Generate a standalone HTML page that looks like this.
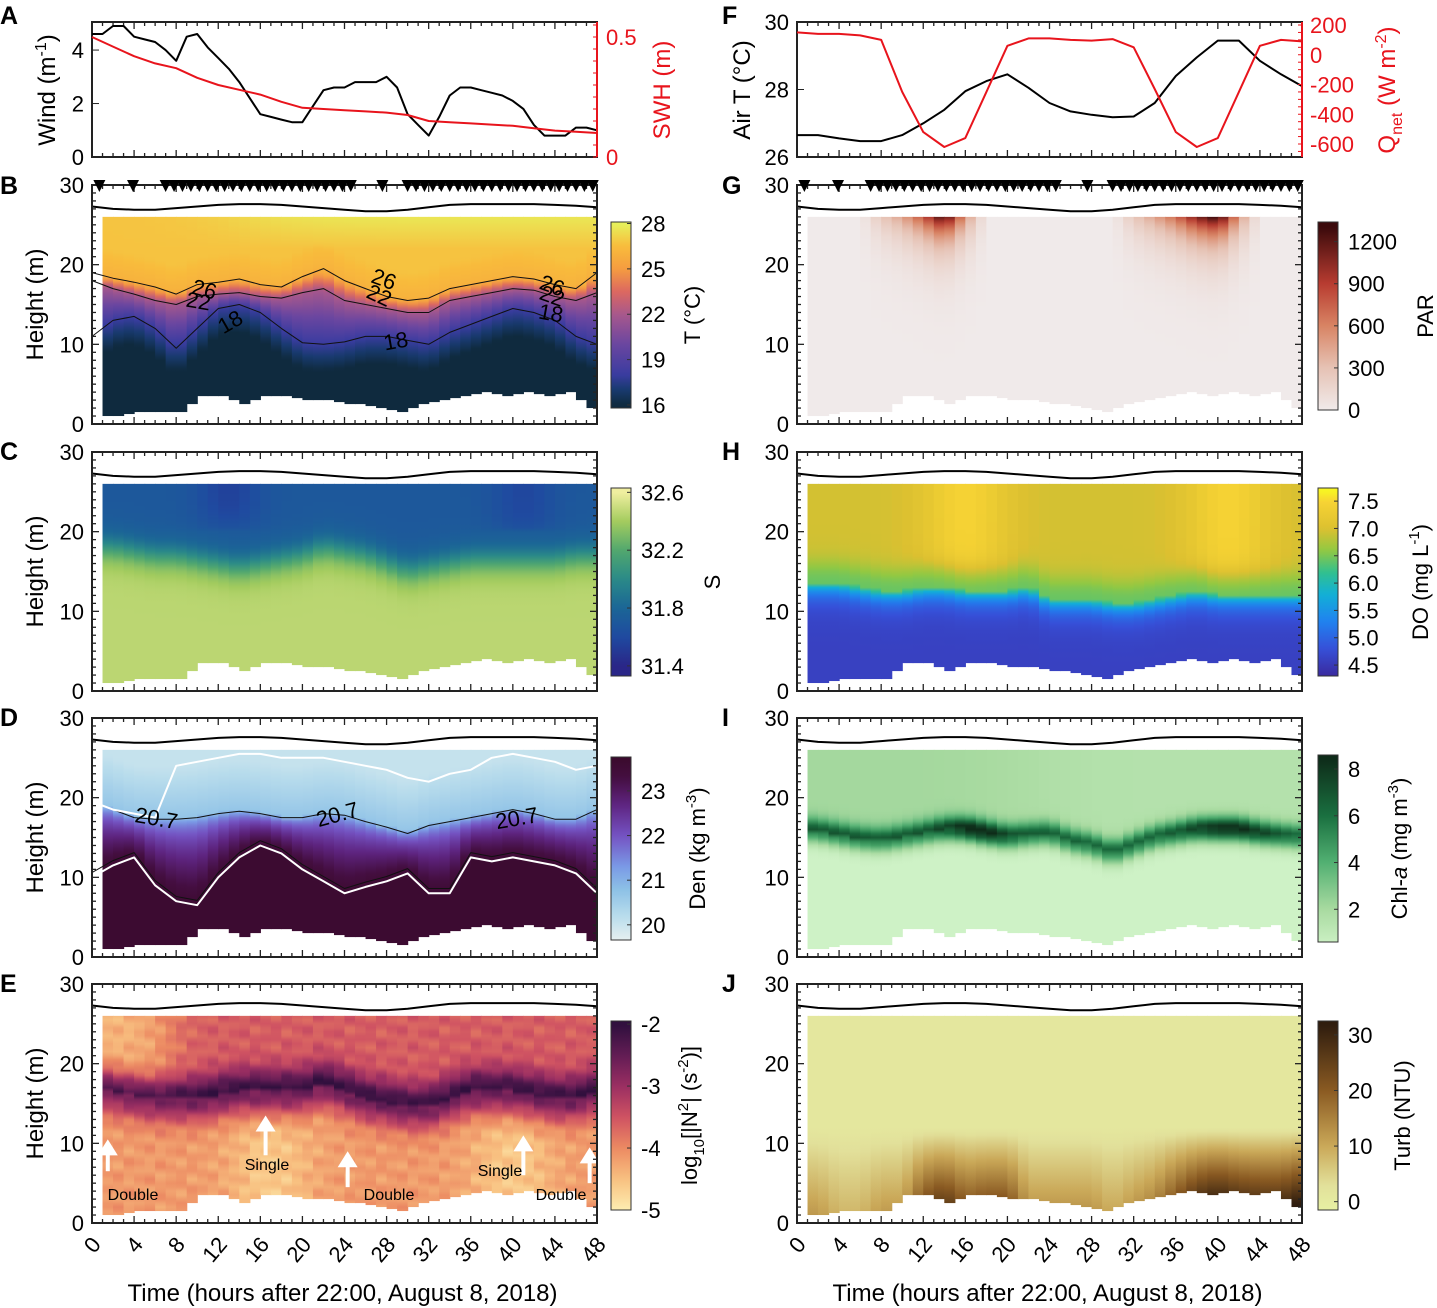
<!DOCTYPE html>
<html><head><meta charset="utf-8">
<style>
html,body{margin:0;padding:0;background:#fff;}
svg{display:block;font-family:"Liberation Sans",sans-serif;}
</style></head>
<body>
<svg id="fig" width="1437" height="1308" viewBox="0 0 1437 1308" xmlns="http://www.w3.org/2000/svg">
<defs id="defs"></defs>
</svg>
<script>
// ===== data =====
const windTimes = [0,1,2,3,4,5,6,7,8,9,10,11,12,13,14,15,16,17,18,19,20,21,22,23,24,25,26,27,28,29,30,31,32,33,34,35,36,37,38,39,40,41,42,43,44,45,46,47,48];
const windValues = [4.6,4.6,4.9,4.9,4.5,4.4,4.3,4.0,3.6,4.5,4.6,4.1,3.7,3.3,2.8,2.2,1.6,1.5,1.4,1.3,1.3,1.9,2.5,2.6,2.6,2.8,2.8,2.8,3.0,2.6,1.6,1.2,0.8,1.5,2.3,2.6,2.6,2.5,2.4,2.3,2.1,1.8,1.2,0.8,0.8,0.8,1.1,1.1,1.0];
const hourTimes = [0,2,4,6,8,10,12,14,16,18,20,22,24,26,28,30,32,34,36,38,40,42,44,46,48];
const swhValues = [0.50,0.46,0.42,0.39,0.37,0.33,0.30,0.28,0.26,0.23,0.205,0.2,0.195,0.19,0.185,0.175,0.15,0.145,0.14,0.135,0.13,0.12,0.11,0.105,0.10];
const airTValues = [26.65,26.65,26.55,26.47,26.47,26.65,27.0,27.4,27.95,28.25,28.45,28.05,27.6,27.35,27.25,27.18,27.2,27.6,28.4,28.95,29.45,29.45,28.85,28.45,28.1];
const qnetValues = [150,140,140,130,100,-250,-520,-620,-560,-250,60,110,110,100,95,105,50,-230,-520,-620,-560,-250,60,100,90];
const surfaceValues = [27.3,27.0,26.9,26.9,27.1,27.3,27.5,27.6,27.6,27.5,27.3,27.1,26.9,26.7,26.7,26.9,27.2,27.5,27.6,27.6,27.6,27.6,27.5,27.4,27.2];
const bottomValues = [1,1,1.5,1.5,1.5,3.5,3.5,2.5,3.5,3.5,3,3,2.5,2.5,2,1.5,2.5,3,3.5,4,3.5,4,3.5,4,2];
const iso26Values = [19,18.3,17.8,17.2,16.3,17.5,17.8,18.2,17.5,17.2,18.5,19.5,18,17,16,15.5,15.8,17,17.5,18,18.5,18.2,17.5,17,19];
const iso22Values = [18,17,16.3,15.5,15,16,16.3,16.5,16,15.8,16.5,17,15.5,15,14.5,14,14,15.5,16,16.5,17,16.8,16,15.5,16.5];
const iso18Values = [11,13,13.5,12,9.5,12,14.5,15,14,12,10.2,10,10.3,11,11,10.5,10,11.5,12.5,13.5,14.5,14,13,11,10];
const haloValues = [18,18,17.5,17,17,16.5,16,15.5,16,16.5,17,18,17.5,17,16,15,15.5,16,16.5,16.5,16.5,16.5,16.5,17,17];
const den207Values = [19.5,18.5,17.5,17.3,17.3,17.5,18,18.3,18,17.5,17.5,18,17.8,17,16.3,15.5,16.5,17,17.5,18,18.5,18,17.3,17.3,18.5];
const denLowerValues = [10,11.5,12.5,9,7,6.5,10,12.5,14,13,11,9.5,8,8.8,9.5,10.5,8,8,12.5,12,12.5,12,11.5,10.5,8];
const denUpperValues = [19.5,18.5,18,17.5,24,24.5,25,25.5,25.5,25,25,25,24.5,24,23.5,22.5,22,23,23.5,25,25.5,25,24.5,23.5,24];
const n2BandValues = [17.5,16.5,16,15.5,15.5,15.5,16,16.5,16.5,16.5,16.5,17.5,16.5,15.5,15,14.5,14.5,15.5,16.5,16.5,16.5,16,15.5,15.5,16.5];
const parValues = [0,0,0,0,250,450,800,1300,500,0,0,0,0,0,0,0,250,450,700,1100,1350,500,0,0,0];
const doValues = [14.5,14.5,14.5,14,13.5,13.5,14,14,13.5,13.5,13.5,14,12.5,12.5,12.5,12,12,12.5,13,13.5,13,13,13,13,13];
const chlValues = [16,15.8,15.3,14.8,14.6,15,15.5,16,16,15.5,15,15.3,15.5,14.5,14,13,14,15,15.5,16,16,16,15.5,15.2,15];
const turbValues = [9,9,6,6,9,9,20,24,18,20,20,10,10,10,10,7,10,13,20,27,30,27,26,26,30];
const markerTimes = [0.7,3.9,7,7.8,8.6,9.4,10.2,11,11.8,12.6,13.4,14.2,15,15.8,16.6,17.4,18.2,19,19.8,20.6,21.4,22.2,23,23.8,24.6,27.6,30,30.8,31.6,32.4,33.2,34,34.8,35.6,36.4,37.2,38,38.8,39.6,40.4,41.2,42,42.8,43.6,44.4,45.2,46,46.8,47.6];
const timeTicks = [0,4,8,12,16,20,24,28,32,36,40,44,48];
const heightTicks = [0,10,20,30];

// ===== helpers =====
const NS = "http://www.w3.org/2000/svg";
const svg = document.getElementById('fig');
const defs = document.getElementById('defs');
function mk(tag, attrs, parent){
  const e = document.createElementNS(NS, tag);
  for (const k in attrs) e.setAttribute(k, attrs[k]);
  (parent||svg).appendChild(e);
  return e;
}
function lerpArr(arr, t){
  const f = t/2; const i = Math.max(0, Math.min(arr.length-2, Math.floor(f)));
  const r = Math.min(1, Math.max(0, f - i));
  return arr[i]*(1-r) + arr[i+1]*r;
}
function hex(c){return [parseInt(c.slice(1,3),16),parseInt(c.slice(3,5),16),parseInt(c.slice(5,7),16)];}
function cmap(stops, v){
  if (v <= stops[0][0]) return stops[0][1];
  if (v >= stops[stops.length-1][0]) return stops[stops.length-1][1];
  for (let i=0;i<stops.length-1;i++){
    if (v>=stops[i][0] && v<=stops[i+1][0]){
      const r=(v-stops[i][0])/(stops[i+1][0]-stops[i][0]);
      const a=hex(stops[i][1]), b=hex(stops[i+1][1]);
      return 'rgb('+a.map((x,j)=>Math.round(x+(b[j]-x)*r)).join(',')+')';
    }
  }
}
const LX = 92, RX = 797, PW = 505, PH = 239;
function xs(X0, t){ return X0 + t*PW/48; }
function ys(Y0, h){ return Y0 + (30-h)*PH/30; }
function txt(x, y, s, attrs, parent){
  const a = Object.assign({x:x, y:y, 'font-size':22, fill:'#000'}, attrs||{});
  const e = mk('text', a, parent);
  e.textContent = s;
  return e;
}
let gid = 0;
const bump = (t, c, w) => Math.exp(-Math.pow((t-c)/w,2));
const sig = x => 1/(1+Math.exp(-x));

const C_THERM = [[16,'#0f2a3e'],[17,'#183a6e'],[18,'#3a3ca0'],[20,'#6a46a0'],[22,'#a8588c'],[23.5,'#dc6860'],[25,'#f59c40'],[26.5,'#f8bc3c'],[28,'#e6f25c']];
const C_HALINE = [[31.4,'#2a2688'],[31.6,'#1f4aa0'],[31.8,'#1b6696'],[32.0,'#2a8a88'],[32.2,'#52a86e'],[32.4,'#a4cc5e'],[32.6,'#f0eea0']];
const C_DENSE = [[19.66,'#e6f0f0'],[20.2,'#b8dcec'],[20.8,'#8cc0e6'],[21.3,'#7a9ae6'],[22,'#7452c2'],[22.7,'#5e2480'],[23.3,'#440e40'],[23.76,'#3a0a2c']];
const C_MATTER = [[-5,'#fdedb0'],[-4.5,'#f8c080'],[-4,'#ec8a62'],[-3.5,'#cf5262'],[-3,'#9a2e62'],[-2.5,'#621c54'],[-2,'#2f0f3d']];
const C_PAR = [[0,'#f0eaea'],[300,'#e6c2b4'],[600,'#d88464'],[900,'#b83c30'],[1300,'#3c0a0c']];
const C_DO = [[4.3,'#3a2a9e'],[4.8,'#3650d8'],[5.3,'#2082f0'],[5.8,'#12b0d6'],[6.2,'#32c08e'],[6.6,'#92c842'],[7.0,'#dcc030'],[7.5,'#f8d434'],[7.7,'#f8f820']];
const C_ALGAE = [[0,'#d8f8d0'],[2,'#a8daa0'],[4,'#52b072'],[6,'#1a7040'],[8.5,'#0e2a18']];
const C_TURB = [[-2,'#e8f2a4'],[3,'#e2e09a'],[10,'#caa858'],[20,'#8a5a22'],[32,'#2e1c0e']];

function heatmap(name, X0, Y0, valueFn, stops){
  const g = mk('g', {});
  
  
  for (let c=1; c<48; c++){
    const tm = c + 0.5;
    const bot = lerpArr(bottomValues, c < 24 ? Math.floor(tm) : Math.ceil(tm));
    const id = 'g'+(gid++);
    const lg = mk('linearGradient', {id:id, x1:0, x2:0, y1:ys(Y0,26), y2:ys(Y0,0), gradientUnits:'userSpaceOnUse'}, defs);
    for (let h=26; h>=0; h-=0.5){
      mk('stop', {offset:((26-h)/26).toFixed(4), 'stop-color':cmap(stops, valueFn(tm,h))}, lg);
    }
    const x1 = xs(X0,c), x2 = xs(X0,c+1)+0.6;
    const r = mk('rect', {x:x1, y:ys(Y0,26), width:x2-x1, height:ys(Y0,bot)-ys(Y0,26), fill:'url(#'+id+')'}, g);
    
    
  }
  return g;
}
function polyline(name, X0, Y0, times, vals, fn, attrs){
  const pts = times.map((t,i)=> xs(X0,t).toFixed(1)+','+fn(vals[i]).toFixed(1)).join(' ');
  const p = mk('polyline', Object.assign({points:pts, fill:'none', 'stroke-linejoin':'round'}, attrs));
  
  
  return p;
}
function frame(name, X0, Y0, H){
  const g = mk('g', {});
  
  
  mk('rect', {x:X0, y:Y0, width:PW, height:H, fill:'none', stroke:'#222', 'stroke-width':2}, g);
  for (let t=0;t<=48;t++){
    const len = t%4===0 ? 7 : 4;
    mk('line', {x1:xs(X0,t), x2:xs(X0,t), y1:Y0+H, y2:Y0+H-len, stroke:'#222','stroke-width':1.3}, g);
    mk('line', {x1:xs(X0,t), x2:xs(X0,t), y1:Y0, y2:Y0+len, stroke:'#222','stroke-width':1.3}, g);
  }
  return g;
}
function heightAxis(X0, Y0, showTitle){
  const g = mk('g', {});
  
  
  for (let h=0; h<=30; h++){
    const len = h%10===0 ? 7 : 4;
    mk('line', {x1:X0, x2:X0+len, y1:ys(Y0,h), y2:ys(Y0,h), stroke:'#222','stroke-width':1.3}, g);
    mk('line', {x1:X0+PW, x2:X0+PW-len, y1:ys(Y0,h), y2:ys(Y0,h), stroke:'#222','stroke-width':1.3}, g);
  }
  heightTicks.forEach(h=>{
    const t = txt(X0-8, ys(Y0,h)+8, String(h), {'text-anchor':'end'}, g);
    
    
  });
  if (showTitle){
    const t = txt(0,0,'Height (m)', {'font-size':24, 'text-anchor':'middle', transform:'translate(43,'+(Y0+PH/2)+') rotate(-90)'}, g);
    
    
  }
}
function surfaceLine(X0, Y0){
  polyline('surface-line', X0, Y0, hourTimes, surfaceValues, v=>ys(Y0,v), {stroke:'#000','stroke-width':2});
}
function isoLine(name, X0, Y0, arr, color, width){
  polyline(name, X0, Y0, hourTimes, arr, v=>ys(Y0,v), {stroke:color, 'stroke-width':width});
}
function colorbar(name, x, y1, y2, vmin, vmax, stops, ticks, title, titleX, fmt){
  const g = mk('g', {});
  
  
  const id = 'cb'+(gid++);
  const lg = mk('linearGradient', {id:id, x1:0, x2:0, y1:1, y2:0}, defs);
  for (let i=0;i<=40;i++){
    const v = vmin + (vmax-vmin)*i/40;
    mk('stop', {offset:i/40, 'stop-color':cmap(stops, v)}, lg);
  }
  mk('rect', {x:x, y:y1, width:20, height:y2-y1, fill:'url(#'+id+')', stroke:'#333', 'stroke-width':1}, g);
  ticks.forEach(v=>{
    const y = y2 - (v-vmin)/(vmax-vmin)*(y2-y1);
    mk('line', {x1:x+20, x2:x+16, y1:y, y2:y, stroke:'#333'}, g);
    const t = txt(x+30, y+8, fmt ? v.toFixed(fmt) : String(v), {}, g);
    
    
  });
  const tt = mk('text', {x:0, y:0, 'font-size':22, 'text-anchor':'middle', transform:'translate('+titleX+','+((y1+y2)/2)+') rotate(-90)'}, g);
  tt.innerHTML = title;
  
  
}
function markers(X0, Y0){
  const g = mk('g', {});
  
  
  markerTimes.forEach(t=>{
    const x = xs(X0,t);
    mk('polygon', {points:(x-6)+','+(Y0-5)+' '+(x+6)+','+(Y0-5)+' '+x+','+(Y0+7), fill:'#000'}, g);
  });
}
function timeAxis(X0, Y0){
  const g = mk('g', {});
  
  
  timeTicks.forEach(t=>{
    const x = xs(X0,t);
    const e = txt(0,0,String(t), {'text-anchor':'end', transform:'translate('+(x+10)+','+(Y0+PH+22)+') rotate(-50)'}, g);
    
    
  });
  const e = txt(X0+PW/2-2, Y0+PH+78, 'Time (hours after 22:00, August 8, 2018)', {'font-size':24, 'text-anchor':'middle'}, g);
  
  
}
function letter(s, x, y){
  const e = txt(x, y, s, {'font-size':25, 'font-weight':'bold'});
  
  
}

// ===== Panel A =====
const aTop = 22, aBot = 157;
const windY = v => aBot - v*(aBot-aTop)/5.05;
const swhY = v => aBot - v*(aBot-37)/0.5;
frame('panel-a-frame', LX, aTop, aBot-aTop);
polyline('wind-line', LX, 0, windTimes, windValues, windY, {stroke:'#000','stroke-width':2});
polyline('swh-line', LX, 0, hourTimes, swhValues, swhY, {stroke:'#e8141c','stroke-width':2});
[0,2,4].forEach(v=>{ mk('line',{x1:LX,x2:LX+7,y1:windY(v),y2:windY(v),stroke:'#222'}); const t=txt(LX-8,windY(v)+8,String(v),{'text-anchor':'end'});   });
mk('line',{x1:LX+PW,x2:LX+PW,y1:aTop,y2:aBot,stroke:'#e8141c','stroke-width':2});
[0,0.5].forEach(v=>{ const t=txt(LX+PW+9,swhY(v)+8,String(v),{fill:'#e8141c'});   });
for (let v=0; v<=0.55; v+=0.05){ mk('line',{x1:LX+PW,x2:LX+PW-4,y1:swhY(v),y2:swhY(v),stroke:'#e8141c'}); }
(function(){
  let t = mk('text',{x:0,y:0,'font-size':24,'text-anchor':'middle',transform:'translate(55,90) rotate(-90)'});
  t.innerHTML = 'Wind (m<tspan dy="-9" font-size="16">-1</tspan><tspan dy="9">)</tspan>';
   
  t = txt(0,0,'SWH (m)',{'font-size':24,fill:'#e8141c','text-anchor':'middle',transform:'translate(670,90) rotate(-90)'});
   
})();

// ===== Panel F =====
const fT = v => aBot - (v-26)*(aBot-aTop)/4;
const qY = v => 54.75 - v*(119/800);
frame('panel-f-frame', RX, aTop, aBot-aTop);
polyline('air-temp-line', RX, 0, hourTimes, airTValues, fT, {stroke:'#000','stroke-width':2});
polyline('qnet-line', RX, 0, hourTimes, qnetValues, qY, {stroke:'#e8141c','stroke-width':2});
[26,28,30].forEach(v=>{ mk('line',{x1:RX,x2:RX+7,y1:fT(v),y2:fT(v),stroke:'#222'}); const t=txt(RX-8,fT(v)+8,String(v),{'text-anchor':'end'});   });
mk('line',{x1:RX+PW,x2:RX+PW,y1:aTop,y2:aBot,stroke:'#e8141c','stroke-width':2});
[200,0,-200,-400,-600].forEach(v=>{ const t=txt(RX+PW+8,qY(v)+8,String(v),{fill:'#e8141c'});   });
for (let v=-650; v<=220; v+=50){ mk('line',{x1:RX+PW,x2:RX+PW-4,y1:qY(v),y2:qY(v),stroke:'#e8141c'}); }
(function(){
  let t = mk('text',{x:0,y:0,'font-size':24,'text-anchor':'middle',transform:'translate(750,90) rotate(-90)'});
  t.innerHTML = 'Air T (°C)';
   
  t = mk('text',{x:0,y:0,'font-size':24,fill:'#e8141c','text-anchor':'middle',transform:'translate(1395,90) rotate(-90)'});
  t.innerHTML = 'Q<tspan dy="7" font-size="16">net</tspan><tspan dy="-7"> (W m</tspan><tspan dy="-9" font-size="16">-2</tspan><tspan dy="9">)</tspan>';
   
})();

// ===== heat panels =====
const tops = {B:185, C:452, D:718, E:984};
heatmap('temperature-heatmap', LX, tops.B, (t,h)=>{
  const a=lerpArr(iso26Values,t), b=lerpArr(iso18Values,t), m=lerpArr(iso22Values,t);
  if (h>=a){
    const warm = sig((t-14)/3)*(h>22 ? (h-22)*0.25 : 0);
    return Math.min(27.6, 26 + Math.min(0.7,(h-a)*0.2) + warm);
  }
  if (h>=m) return 22 + 4*(h-m)/(a-m);
  if (h>=b) return 18 + 4*(h-b)/(m-b);
  return Math.max(15.9, 18-(b-h)*0.6);
}, C_THERM);
heatmap('salinity-heatmap', LX, tops.C, (t,h)=>{
  const a=lerpArr(haloValues,t);
  let v = 31.7 + 0.76*sig((a-h)/1.1);
  if (h>20) v -= 0.15*bump(t,13,3)*sig((h-21)/1) + 0.12*bump(t,41,3)*sig((h-20)/1);
  return v;
}, C_HALINE);
heatmap('density-heatmap', LX, tops.D, (t,h)=>{
  const a=lerpArr(den207Values,t), b=lerpArr(denLowerValues,t);
  if (h>=a) return Math.max(20.05, 20.7-(h-a)*0.1);
  if (h>=b) return 20.7 + 2.9*Math.pow((a-h)/(a-b),0.5);
  return 23.65;
}, C_DENSE);
heatmap('n2-heatmap', LX, tops.E, (t,h)=>{
  const c=lerpArr(n2BandValues,t);
  const tex = 0.14*Math.sin(t*2.1)*Math.cos(h*1.7) + 0.08*Math.sin(h*3.1+t*0.7);
  let base = h>c ? -3.6 + tex : -4.15 + tex;
  base -= 0.8*(1-sig((t-7)/1.2))*sig((h-c-1)/1);
  if (h<c) base -= 0.45*(bump(t,17,4)+bump(t,40,4))*sig((c-4-h)/1);
  return base + 1.55*Math.exp(-Math.pow((h-c)/2.8,2));
}, C_MATTER);
heatmap('par-heatmap', RX, tops.B, (t,h)=> lerpArr(parValues,t)*Math.exp(-(26-h)/3), C_PAR);
heatmap('do-heatmap', RX, tops.C, (t,h)=>{
  const a=lerpArr(doValues,t);
  if (h>=a-1){
    let v = 6.4 + 0.55*sig((h-a-1.5)/0.8);
    v += 0.5*(bump(t,16,4)+bump(t,41,4))*sig((h-a-1.5)/1);
    return v;
  }
  return 4.6 + 1.7*Math.exp(-(a-1-h)/1.4);
}, C_DO);
heatmap('chl-heatmap', RX, tops.D, (t,h)=>{
  const c=lerpArr(chlValues,t);
  const peak = 5 + 2.5*(bump(t,17,3)+bump(t,41,4));
  return (h>c ? 2.1 - 0.6*sig((t-22)/3) : 0.4) + peak*Math.exp(-Math.pow((h-c)/1.5,2));
}, C_ALGAE);
heatmap('turbidity-heatmap', RX, tops.E, (t,h)=>{
  return 1 + lerpArr(turbValues,t)*Math.max(0, 1-(h-3)/9);
}, C_TURB);

['B','C','D','E'].forEach(k=>{ surfaceLine(LX, tops[k]); surfaceLine(RX, tops[k]); });
isoLine('contour-26', LX, tops.B, iso26Values, '#111', 1);
isoLine('contour-22', LX, tops.B, iso22Values, '#111', 1);
isoLine('contour-18', LX, tops.B, iso18Values, '#111', 1);
isoLine('contour-20-7', LX, tops.D, den207Values, '#111', 1);
isoLine('contour-23-6', LX, tops.D, denLowerValues.map(v=>v+0.6), '#111', 1);
isoLine('white-upper-line', LX, tops.D, denUpperValues, '#fff', 2);
isoLine('white-lower-line', LX, tops.D, denLowerValues, '#fff', 2);

function clabel(s, X0, Y0, t, h, rot){
  const e = txt(0,0,s,{'font-size':22,'text-anchor':'middle',transform:'translate('+xs(X0,t)+','+(ys(Y0,h)+8)+') rotate('+rot+')'});
   
}
clabel('26',LX,tops.B,10.5,17,15); clabel('22',LX,tops.B,10,15.5,10); clabel('18',LX,tops.B,13.5,13,-30);
clabel('26',LX,tops.B,27.5,18.3,20); clabel('22',LX,tops.B,27,16.3,25); clabel('18',LX,tops.B,29,10.5,-10);
clabel('26',LX,tops.B,43.5,17.5,20); clabel('22',LX,tops.B,43.5,16.2,20); clabel('18',LX,tops.B,43.5,14,10);
clabel('20.7',LX,tops.D,6,17.5,10); clabel('20.7',LX,tops.D,23.5,18,-15); clabel('20.7',LX,tops.D,40.5,17.5,-10);

function arrow(t, hBase, hTip){
  const x = xs(LX,t), yb = ys(tops.E,hBase), yt = ys(tops.E,hTip);
  const g = mk('g',{});
   
  mk('line',{x1:x,x2:x,y1:yb,y2:yt+14,stroke:'#fff','stroke-width':4},g);
  mk('polygon',{points:(x-10)+','+(yt+16)+' '+(x+10)+','+(yt+16)+' '+x+','+yt,fill:'#fff'},g);
}
arrow(1.5,6.5,10.5); arrow(16.5,8.5,13.5); arrow(24.3,4.5,9); arrow(41,6,11); arrow(47.3,5,9.5);
[['Double',133,1200],['Single',267,1170],['Double',389,1200],['Single',500,1176],['Double',561,1200]].forEach(a=>{
  const e = txt(a[1],a[2],a[0],{'font-size':16,'text-anchor':'middle'});
   
});

['B','C','D','E'].forEach(k=>{
  frame('panel-'+k.toLowerCase()+'-frame', LX, tops[k], PH); heightAxis(LX, tops[k], true);
});
const rmap = {B:'g',C:'h',D:'i',E:'j'};
['B','C','D','E'].forEach(k=>{
  frame('panel-'+rmap[k]+'-frame', RX, tops[k], PH); heightAxis(RX, tops[k], false);
});
markers(LX, tops.B); markers(RX, tops.B);
timeAxis(LX, tops.E); timeAxis(RX, tops.E);

colorbar('temperature-colorbar', 611, 222, 408, 15.8, 28.1, C_THERM, [16,19,22,25,28], 'T (°C)', 700);
colorbar('salinity-colorbar', 611, 488, 676, 31.33, 32.63, C_HALINE, [31.4,31.8,32.2,32.6], 'S', 720);
colorbar('density-colorbar', 611, 757, 940, 19.66, 23.76, C_DENSE, [20,21,22,23], 'Den (kg m<tspan dy="-9" font-size="15">-3</tspan><tspan dy="9">)</tspan>', 705);
colorbar('n2-colorbar', 611, 1021, 1210, -5.0, -1.95, C_MATTER, [-2,-3,-4,-5], 'log<tspan dy="7" font-size="15">10</tspan><tspan dy="-7">[|N</tspan><tspan dy="-9" font-size="15">2</tspan><tspan dy="9">| (s</tspan><tspan dy="-9" font-size="15">-2</tspan><tspan dy="9">)]</tspan>', 697);
colorbar('par-colorbar', 1318, 222, 410, 0, 1340, C_PAR, [0,300,600,900,1200], 'PAR', 1433);
colorbar('do-colorbar', 1318, 488, 676, 4.3, 7.74, C_DO, [4.5,5.0,5.5,6.0,6.5,7.0,7.5], 'DO (mg L<tspan dy="-9" font-size="15">-1</tspan><tspan dy="9">)</tspan>', 1428, 1);
colorbar('chl-colorbar', 1318, 755, 942, 0.6, 8.6, C_ALGAE, [2,4,6,8], 'Chl-<tspan font-style="italic">a</tspan> (mg m<tspan dy="-9" font-size="15">-3</tspan><tspan dy="9">)</tspan>', 1407);
colorbar('turbidity-colorbar', 1318, 1021, 1210, -1.5, 32.5, C_TURB, [0,10,20,30], 'Turb (NTU)', 1410);

letter('A',0,24); letter('B',0,194); letter('C',0,460); letter('D',0,726); letter('E',0,992);
letter('F',722,24); letter('G',722,194); letter('H',722,460); letter('I',722,726); letter('J',722,992);
</script>
</body></html>
